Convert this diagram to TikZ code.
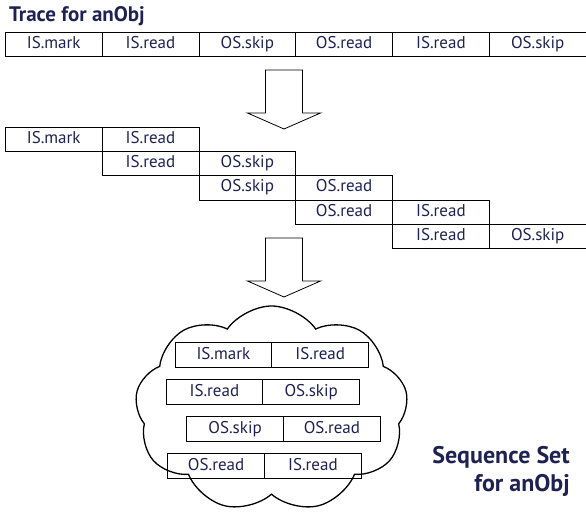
\documentclass[tikz,border=0pt]{standalone}
\usepackage{fontspec}
\setmainfont{PT Sans}
\usetikzlibrary{positioning, shapes.symbols}
\definecolor{colText}{RGB}{30, 34, 82}

\begin{document}
\begin{tikzpicture}[
  x=1pt, y=-1pt,
  cell/.style={draw, line width=0.8pt, outer sep=0pt, inner sep=0pt,
               minimum width=96.8pt, minimum height=24.3pt,
               text height=12.5pt, text depth=4.5pt,
               font=\fontsize{17}{19}\selectfont, text=colText},
  heading/.style={font=\fontsize{#1}{28}\selectfont\bfseries,
                  text=colText, inner sep=0pt},
  bigarrow/.pic={
    \draw[line width=0.8pt] (-18.5,0) -- (18.5,0) -- (18.5,43) -- (36.5,43)
      -- (0,59) -- (-36.5,43) -- (-18.5,43) -- cycle;
  }
]
\useasboundingbox (0,0) rectangle (586,515);

% ---------- Trace ----------
\node[heading=21, anchor=north west] (trace) at (9,6) {Trace for anObj};

\node[cell, anchor=north west] (t1) at (5.3,32) {IS.mark};
\node[cell, right=0pt of t1] (t2) {IS.read};
\node[cell, right=0pt of t2] (t3) {OS.skip};
\node[cell, right=0pt of t3] (t4) {OS.read};
\node[cell, right=0pt of t4] (t5) {IS.read};
\node[cell, right=0pt of t5] (t6) {OS.skip};

\pic at (284,70) {bigarrow};

% ---------- Sliding window ----------
\node[cell, anchor=north west] (s11) at (5.3,127) {IS.mark};
\node[cell, right=0pt of s11] (s12) {IS.read};
\node[cell, below=0pt of s12] (s21) {IS.read};
\node[cell, right=0pt of s21] (s22) {OS.skip};
\node[cell, below=0pt of s22] (s31) {OS.skip};
\node[cell, right=0pt of s31] (s32) {OS.read};
\node[cell, below=0pt of s32] (s41) {OS.read};
\node[cell, right=0pt of s41] (s42) {IS.read};
\node[cell, below=0pt of s42] (s51) {IS.read};
\node[cell, right=0pt of s51] (s52) {OS.skip};

\pic at (284,238) {bigarrow};

% ---------- Sequence set ----------
\node[cloud, draw, line width=1.3pt, cloud puffs=9, cloud puff arc=110,
      cloud ignores aspect, minimum width=273pt, minimum height=206pt]
  (seqset) at (271.5,409) {};

\node[cell, anchor=west] (c11) at (175,355) {IS.mark};
\node[cell, right=0pt of c11] (c12) {IS.read};
\node[cell, anchor=west] (c21) at (166,392) {IS.read};
\node[cell, right=0pt of c21] (c22) {OS.skip};
\node[cell, anchor=west] (c31) at (186.7,429) {OS.skip};
\node[cell, right=0pt of c31] (c32) {OS.read};
\node[cell, anchor=west] (c41) at (167.7,466) {OS.read};
\node[cell, right=0pt of c41] (c42) {IS.read};

\node[heading=24, align=right, anchor=north east] (setlab) at (570,446)
  {Sequence Set\\for anObj};

\end{tikzpicture}
\end{document}
